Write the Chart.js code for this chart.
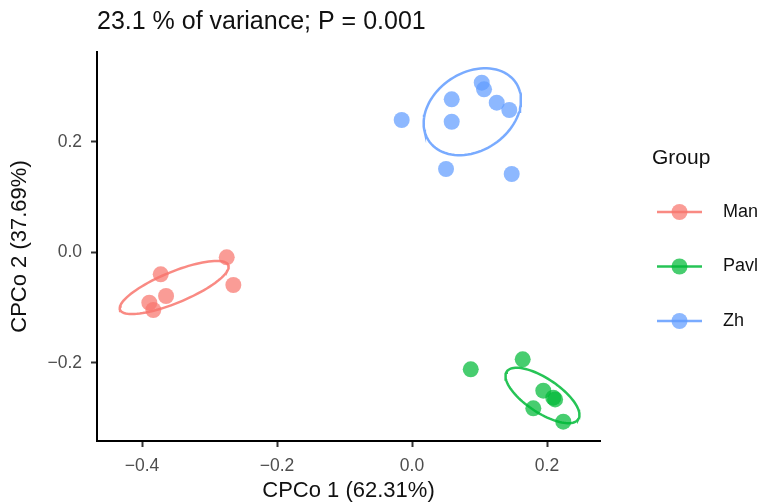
<!DOCTYPE html>
<html>
<head>
<meta charset="utf-8">
<script src="https://cdn.jsdelivr.net/npm/chart.js@4"></script>
<style>
  html, body { margin: 0; padding: 0; background: #fff; }
  #chart { display: block; }
</style>
</head>
<body>
<canvas id="chart" width="761" height="504"></canvas>
<script>
// Datos
const groups = ["Man", "Pavl", "Zh"];
const colors = ["248,118,109", "0,186,56", "97,156,255"];

const manX = [-0.2745, -0.2647, -0.3723, -0.3644, -0.3892, -0.3833];
const manY = [-0.0087, -0.0588, -0.0395, -0.0787, -0.0909, -0.1041];

const pavlX = [0.0870, 0.1640, 0.1945, 0.2093, 0.2120, 0.1797, 0.2241];
const pavlY = [-0.2114, -0.1933, -0.2501, -0.2628, -0.2660, -0.2820, -0.3062];

const zhX = [-0.0153, 0.0588, 0.0588, 0.1033, 0.1067, 0.1255, 0.1441, 0.0504, 0.1477];
const zhY = [0.2398, 0.2773, 0.2367, 0.3073, 0.2954, 0.2711, 0.2579, 0.1511, 0.1421];

// Elipses: centro y dos semiejes conjugados (unidades de datos)
const ellipseCenterX = [-0.3523, 0.1933, 0.0893];
const ellipseCenterY = [-0.0633, -0.2588, 0.2548];
const ellipseAxisA = [[0.0801, 0.0407], [0.0530, -0.0431], [0.0695, 0.0]];
const ellipseAxisB = [[0.0094, -0.0256], [-0.0139, -0.0257], [0.0191, 0.0787]];

const xTicks = [-0.4, -0.2, 0.0, 0.2];
const yTicks = [-0.2, 0.0, 0.2];

const titleText = "23.1 % of variance; P = 0.001";
const xTitle = "CPCo 1 (62.31%)";
const yTitle = "CPCo 2 (37.69%)";
const legendTitle = "Group";

const FONT = "'Liberation Sans', Arial, sans-serif";
const seriesX = [manX, pavlX, zhX];
const seriesY = [manY, pavlY, zhY];

function ellipsePath(i) {
  const pts = [];
  for (let k = 0; k <= 90; k++) {
    const t = (k / 90) * Math.PI * 2;
    pts.push({
      x: ellipseCenterX[i] + ellipseAxisA[i][0] * Math.cos(t) + ellipseAxisB[i][0] * Math.sin(t),
      y: ellipseCenterY[i] + ellipseAxisA[i][1] * Math.cos(t) + ellipseAxisB[i][1] * Math.sin(t)
    });
  }
  return pts;
}

const datasets = [];
groups.forEach((g, i) => {
  datasets.push({
    label: g + " ellipse",
    data: ellipsePath(i),
    showLine: true,
    pointRadius: 0,
    borderColor: `rgba(${colors[i]},0.85)`,
    borderWidth: 2.5,
    fill: false,
    order: 0
  });
  datasets.push({
    label: g,
    data: seriesX[i].map((x, j) => ({ x: x, y: seriesY[i][j] })),
    pointRadius: 8,
    pointBackgroundColor: `rgba(${colors[i]},0.72)`,
    pointBorderWidth: 0,
    showLine: false,
    order: 1
  });
});

// Título y leyenda dibujados a mano
const extras = {
  id: "extras",
  afterDraw(chart) {
    const ctx = chart.ctx;
    ctx.save();
    ctx.fillStyle = "#111";
    ctx.textBaseline = "middle";
    ctx.textAlign = "left";
    ctx.font = `25px ${FONT}`;
    ctx.fillText(titleText, 97, 22);

    ctx.font = `21px ${FONT}`;
    ctx.fillText(legendTitle, 652, 158);

    groups.forEach((g, i) => {
      const y = 212 + i * 54.5;
      ctx.strokeStyle = `rgba(${colors[i]},0.85)`;
      ctx.lineWidth = 2.5;
      ctx.beginPath();
      ctx.moveTo(657, y);
      ctx.lineTo(702, y);
      ctx.stroke();
      ctx.fillStyle = `rgba(${colors[i]},0.72)`;
      ctx.beginPath();
      ctx.arc(679.5, y, 8, 0, Math.PI * 2);
      ctx.fill();
      ctx.fillStyle = "#111";
      ctx.font = `18px ${FONT}`;
      ctx.fillText(g, 723, y);
    });
    ctx.restore();
  }
};

new Chart(document.getElementById("chart"), {
  type: "scatter",
  data: { datasets: datasets },
  options: {
    responsive: false,
    animation: false,
    layout: { padding: { top: 52, right: 161, bottom: 0, left: 0 } },
    plugins: {
      legend: { display: false },
      tooltip: { enabled: false }
    },
    scales: {
      x: {
        type: "linear",
        min: -0.4667,
        max: 0.2785,
        afterBuildTicks: s => { s.ticks = xTicks.map(v => ({ value: v })); },
        afterFit: s => { s.height = 63; },
        border: { display: true, color: "#000", width: 2 },
        grid: { drawOnChartArea: false, drawTicks: true, tickLength: 6, tickWidth: 2, tickColor: "#333" },
        ticks: {
          padding: 9,
          color: "#4d4d4d",
          font: { family: FONT, size: 17.5 },
          callback: v => v.toFixed(1).replace("-", "\u2212")
        },
        title: {
          display: true,
          text: xTitle,
          color: "#111",
          font: { family: FONT, size: 22 },
          padding: { top: 0, bottom: 0 }
        }
      },
      y: {
        type: "linear",
        min: -0.3412,
        max: 0.3629,
        afterBuildTicks: s => { s.ticks = yTicks.map(v => ({ value: v })); },
        afterFit: s => { s.width = 97; },
        border: { display: true, color: "#000", width: 2 },
        grid: { drawOnChartArea: false, drawTicks: true, tickLength: 6, tickWidth: 2, tickColor: "#333" },
        ticks: {
          padding: 9,
          color: "#4d4d4d",
          font: { family: FONT, size: 17.5 },
          callback: v => v.toFixed(1).replace("-", "\u2212")
        },
        title: {
          display: true,
          text: yTitle,
          color: "#111",
          font: { family: FONT, size: 22 },
          padding: { top: 7, bottom: 0 }
        }
      }
    }
  },
  plugins: [extras]
});
</script>
</body>
</html>
